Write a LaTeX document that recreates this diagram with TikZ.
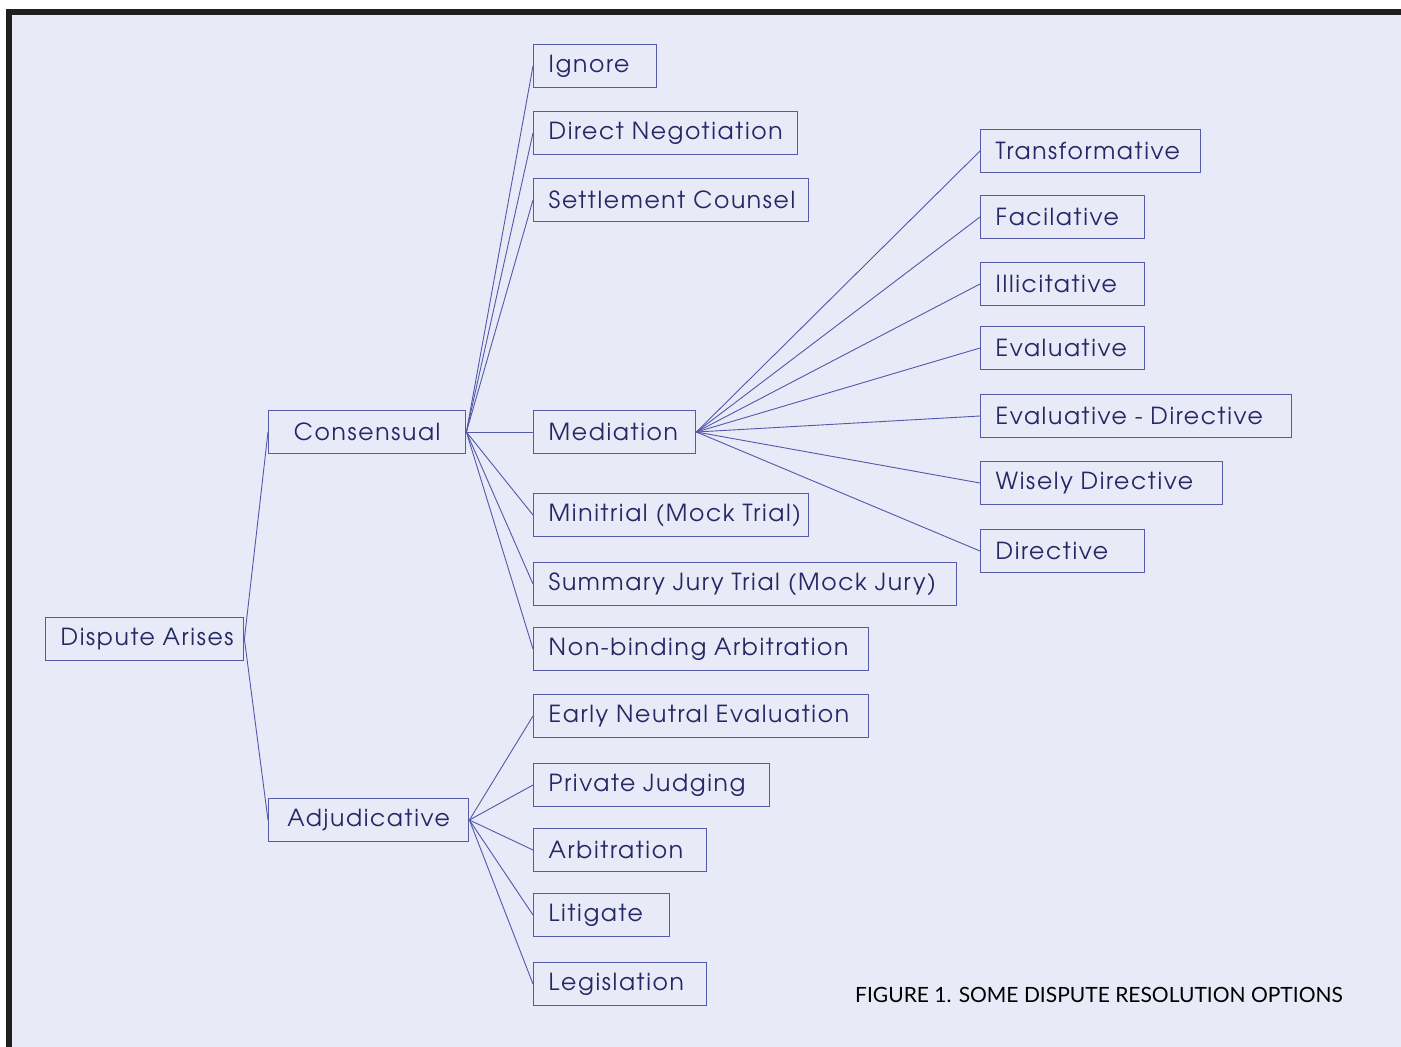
\documentclass[tikz,border=0pt]{standalone}
\usepackage{fontspec}
\newfontfamily\capfont{Lato}
\IfFontExistsTF{TeX Gyre Adventor}
  {\newfontfamily\gothic[LetterSpace=7]{TeX Gyre Adventor}}
  {\newfontfamily\gothic{Poppins}}
\definecolor{bgc}{RGB}{232,234,247}
\definecolor{boxc}{RGB}{86,90,170}
\definecolor{linec}{RGB}{84,88,170}
\definecolor{txtc}{RGB}{36,40,100}
\begin{document}
\begin{tikzpicture}[x=1pt,y=-1pt,
  box/.style={draw=boxc, line width=1.4pt, inner xsep=15pt, inner ysep=0pt,
    minimum height=43pt, anchor=west, align=left, text=txtc,
    font=\gothic\fontsize{23.5}{27}\selectfont},
  cbox/.style={box, align=center},
  link/.style={draw=linec, line width=0.9pt}]
\useasboundingbox (0,0) rectangle (1401,1047);
\fill[white] (0,0) rectangle (1401,1047);
\fill[bgc] (9,12) rectangle (1401,1047);
\draw[black!88, line width=6pt] (9,1047) -- (9,12) -- (1401,12);

% root and the two families
\node[box, text width=168pt] (dispute) at (45,639) {\mbox{Dispute Arises}};
\node[cbox, text width=167pt] (cons) at (268,432) {\mbox{Consensual}};
\node[cbox, text width=170pt] (adj) at (268,820) {\mbox{Adjudicative}};

% consensual options
\node[box, text width=93pt]  (ignore) at (533,66)  {\mbox{Ignore}};
\node[box, text width=234pt] (dneg)   at (533,133) {\mbox{Direct Negotiation}};
\node[box, text width=245pt] (settle) at (533,200) {\mbox{Settlement Counsel}};
\node[box, text width=132pt] (med)    at (533,432) {\mbox{Mediation}};
\node[box, text width=245pt] (mini)   at (533,515) {\mbox{Minitrial (Mock Trial)}};
\node[box, text width=393pt] (sjt)    at (533,584) {\mbox{Summary Jury Trial (Mock Jury)}};
\node[box, text width=305pt] (nba)    at (533,649) {\mbox{Non-binding Arbitration}};

% adjudicative options
\node[box, text width=305pt] (ene)    at (533,716) {\mbox{Early Neutral Evaluation}};
\node[box, text width=206pt] (pj)     at (533,785) {\mbox{Private Judging}};
\node[box, text width=143pt] (arb)    at (533,850) {\mbox{Arbitration}};
\node[box, text width=106pt] (lit)    at (533,915) {\mbox{Litigate}};
\node[box, text width=143pt] (leg)    at (533,984) {\mbox{Legislation}};

% mediation styles
\node[box, text width=190pt] (trans)  at (980,151) {\mbox{Transformative}};
\node[box, text width=134pt] (fac)    at (980,217) {\mbox{Facilative}};
\node[box, text width=134pt] (ill)    at (980,284) {\mbox{Illicitative}};
\node[box, text width=134pt] (eval)   at (980,348) {\mbox{Evaluative}};
\node[box, text width=281pt] (evdir)  at (980,416) {\mbox{Evaluative - Directive}};
\node[box, text width=212pt] (wise)   at (980,483) {\mbox{Wisely Directive}};
\node[box, text width=134pt] (dir)    at (980,551) {\mbox{Directive}};

% connectors
\draw[link] (dispute.east) -- (cons.west);
\draw[link] (dispute.east) -- (adj.west);
\foreach \t in {ignore,dneg,settle,med,mini,sjt,nba}
  \draw[link] (cons.east) -- (\t.west);
\foreach \t in {ene,pj,arb,lit,leg}
  \draw[link] (adj.east) -- (\t.west);
\foreach \t in {trans,fac,ill,eval,evdir,wise,dir}
  \draw[link] (med.east) -- (\t.west);

\node[anchor=west, inner sep=0pt, font=\capfont\fontsize{21}{24}\selectfont]
  (caption) at (855,995) {FIGURE 1. SOME DISPUTE RESOLUTION OPTIONS};
\end{tikzpicture}
\end{document}
